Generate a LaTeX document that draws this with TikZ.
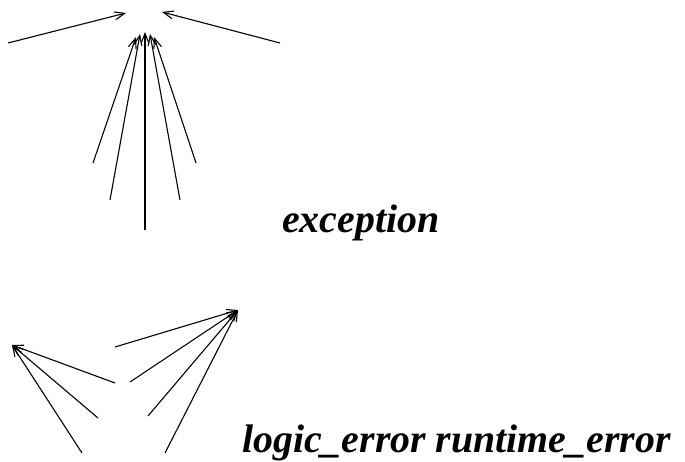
\documentclass[tikz,border=0pt]{standalone}
\usepackage{fontspec}
\setmainfont{Liberation Serif}
\usetikzlibrary{positioning}
\usetikzlibrary{arrows,arrows.meta}

\tikzset{
  classname/.style={font=\fontsize{40}{40}\selectfont\bfseries\itshape, inner sep=0pt, anchor=base west},
  edgeline/.style={->, >={Straight Barb[length=10bp,width=8bp]}, line width=1.1bp}
}

\begin{document}
\begin{tikzpicture}[x=1bp,y=-1bp]
      \useasboundingbox (0,0) rectangle (685,462);
      \node[classname] (exc) at (282,233) {exception};
      \node[classname] (err) at (242,452) {logic\_error runtime\_error};
      % upper tips
      \coordinate (tipL) at (126,13);
      \coordinate (tipR) at (162,12);
      \coordinate (srcL) at (8,43);
      \coordinate (srcR) at (280,43);
      \draw[edgeline] (srcL) -- (tipL);
      \draw[edgeline] (srcR) -- (tipR);
      % fan
      \foreach \i/\sx/\sy/\tx/\ty in {1/93/163/136/37, 2/110/200/140/34, 3/145/230/145/32, 4/180/200/150/34, 5/196/163/154/37}{
        \coordinate (fs\i) at (\sx,\sy);
        \coordinate (ft\i) at (\tx,\ty);
        \draw[edgeline] (fs\i) -- (ft\i);
      }
      % lower left
      \coordinate (lowL) at (12,345);
      \foreach \i/\sx/\sy in {1/115/383, 2/98/418, 3/82/453}{
        \coordinate (ls\i) at (\sx,\sy);
        \draw[edgeline] (ls\i) -- (lowL);
      }
      % lower right
      \coordinate (lowR) at (238,310);
      \foreach \i/\sx/\sy in {1/115/347, 2/130/382, 3/148/416, 4/165/453}{
        \coordinate (rs\i) at (\sx,\sy);
        \draw[edgeline] (rs\i) -- (lowR);
      }
\end{tikzpicture}
\end{document}
